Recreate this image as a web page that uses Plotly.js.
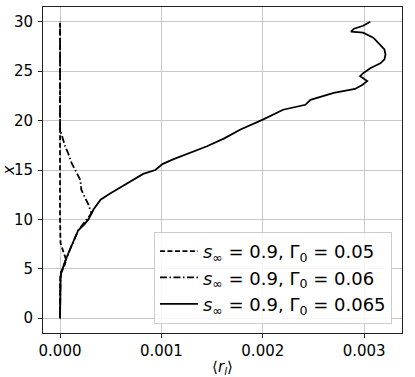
<!DOCTYPE html>
<html>
<head>
<meta charset="utf-8">
<script src="https://cdn.plot.ly/plotly-3.0.1.min.js"></script>
<style>html,body{margin:0;padding:0;background:#fff;}</style>
</head>
<body>
<div id="plot" style="width:415px;height:377px;"></div>
<script>
// height x (vertical) and mean <r_l> (horizontal)

// Gamma0 = 0.05, dashed
var xDash = [0, 2, 4, 4.6, 5.2, 5.9, 6.8, 7.6, 10, 15, 20, 25, 30];
var rDash = [0, 0, 0.000002, 0.00001, 0.00004, 0.00006, 0.00003, 0.000005, 0, 0, 0, 0, 0];

// Gamma0 = 0.06, dash-dot
var xDashDot = [0, 2, 4, 4.6, 5.2, 6, 7, 8, 8.9, 9.7, 10.6, 11.5, 12.3, 13.0, 14.0, 15.0, 15.7, 16.7, 17.4, 18.1, 19.1, 22, 25, 28, 30];
var rDashDot = [0, 0, 0.000005, 0.00001, 0.00003, 0.00006, 0.0001, 0.00014, 0.00018, 0.00024, 0.00031, 0.00028, 0.00024, 0.00021, 0.0002, 0.00015, 0.000115, 0.00008, 0.00005, 0.00003, 0, 0, 0, 0, 0];

// Gamma0 = 0.065, solid
var xSolid = [0, 2, 4, 4.6, 5.2, 6, 7, 8, 8.9, 9.5, 10, 11, 12, 12.6, 13.2, 14.0, 14.6, 15.0, 15.6, 16.1, 16.7, 17.4, 18.2, 19.1, 20.1, 21.1, 21.6, 22.1, 22.8, 23.2, 23.6, 24.0, 24.5, 24.8, 25.3, 25.8, 26.2, 26.7, 27.2, 27.5, 28.0, 28.4, 28.9, 29.0, 29.3, 29.6, 30.0];
var rSolid = [0, 0, 0.000005, 0.00001, 0.00003, 0.00006, 0.0001, 0.00014, 0.00018, 0.00024, 0.00028, 0.00033, 0.0004, 0.00049, 0.00059, 0.00072, 0.00082, 0.00094, 0.00101, 0.00112, 0.00128, 0.00145, 0.00162, 0.00178, 0.002, 0.0022, 0.00242, 0.00247, 0.0027, 0.00291, 0.00298, 0.00303, 0.00296, 0.00299, 0.00306, 0.00316, 0.0032, 0.00321, 0.0032, 0.00317, 0.00313, 0.00309, 0.00299, 0.00287, 0.0029, 0.00299, 0.00306];

var labels = [
  "<i>s</i><sub>∞</sub> = 0.9, Γ<sub>0</sub> = 0.05",
  "<i>s</i><sub>∞</sub> = 0.9, Γ<sub>0</sub> = 0.06",
  "<i>s</i><sub>∞</sub> = 0.9, Γ<sub>0</sub> = 0.065"
];

var data = [
  {x: rDash, y: xDash, name: labels[0], mode: "lines", legendgroup: "a",
   line: {color: "black", width: 1.8, dash: "5px,2.5px"}},
  {x: rDashDot, y: xDashDot, name: labels[1], mode: "lines", legendgroup: "b",
   line: {color: "black", width: 1.8, dash: "7px,2.5px,1.5px,2.5px"}},
  {x: rSolid, y: xSolid, name: labels[2], mode: "lines", legendgroup: "c",
   line: {color: "black", width: 1.8}}
];

var axisStyle = {
  showline: true, linecolor: "#222", linewidth: 1, mirror: true,
  ticks: "outside", ticklen: 4, tickcolor: "#222",
  showgrid: true, gridcolor: "#c8c8c8", gridwidth: 1,
  zeroline: false,
  tickfont: {family: "DejaVu Sans", size: 15, color: "black"}
};

var layout = {
  width: 415, height: 377,
  margin: {l: 43, r: 13, t: 7, b: 44},
  paper_bgcolor: "white", plot_bgcolor: "white",
  font: {family: "DejaVu Sans", color: "black"},
  xaxis: Object.assign({}, axisStyle, {
    range: [-0.000168, 0.003373],
    tickvals: [0, 0.001, 0.002, 0.003],
    ticktext: ["0.000", "0.001", "0.002", "0.003"],
    title: {text: "⟨<i>r<sub>l</sub></i>⟩", font: {family: "DejaVu Sans", size: 15}, standoff: 3}
  }),
  yaxis: Object.assign({}, axisStyle, {
    range: [-1.5, 31.5],
    tickvals: [0, 5, 10, 15, 20, 25, 30],
    ticklabelstandoff: 2,
    title: {text: "<i>x</i>", font: {family: "DejaVu Sans", size: 15}, standoff: 6}
  }),
  showlegend: true,
  legend: {
    x: 0.972, y: 0.028, xanchor: "right", yanchor: "bottom",
    bgcolor: "rgba(255,255,255,0.85)", bordercolor: "#cccccc", borderwidth: 1,
    font: {family: "DejaVu Sans", size: 18, color: "black"},
    tracegroupgap: 0, itemwidth: 38
  }
};

Plotly.newPlot("plot", data, layout, {displayModeBar: false});
</script>
</body>
</html>
